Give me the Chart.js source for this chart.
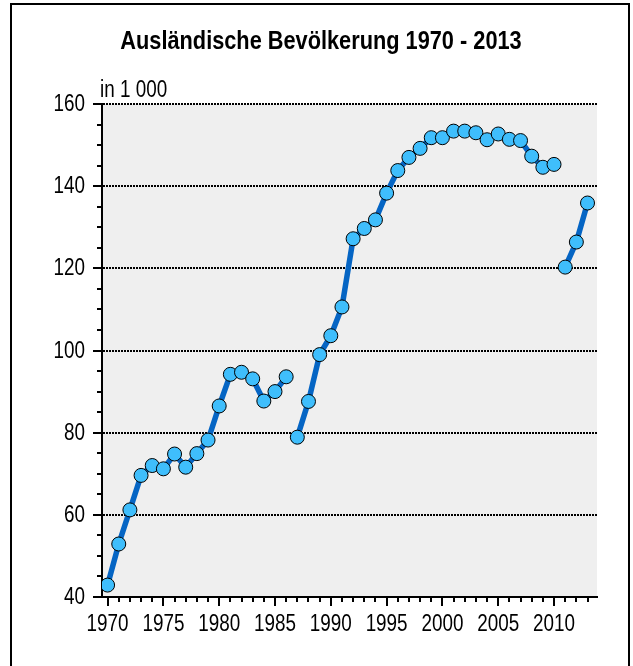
<!DOCTYPE html>
<html>
<head>
<meta charset="utf-8">
<script src="https://cdn.jsdelivr.net/npm/chart.js@4/dist/chart.umd.min.js"></script>
<style>
	html, body { margin: 0; padding: 0; background: #fff; overflow: hidden; }
	#wrap { position: relative; width: 633px; height: 666px; }
	#frame { position: absolute; left: 10px; top: 3px; width: 620px; height: 700px;
		box-sizing: border-box; border: 2px solid #000; border-bottom: none; pointer-events: none; }
	canvas { position: absolute; left: 0; top: 0; }
</style>
</head>
<body>
<div id="wrap">
	<canvas id="c" width="633" height="666"></canvas>
	<div id="frame"></div>
</div>
<script>
// Ausländische Bevölkerung, in 1 000
var years = [1970, 1971, 1972, 1973, 1974, 1975, 1976, 1977, 1978, 1979,
             1980, 1981, 1982, 1983, 1984, 1985, 1986, 1987, 1988, 1989,
             1990, 1991, 1992, 1993, 1994, 1995, 1996, 1997, 1998, 1999,
             2000, 2001, 2002, 2003, 2004, 2005, 2006, 2007, 2008, 2009,
             2010, 2011, 2012, 2013];
var foreigners = [42.9, 52.9, 61.2, 69.6, 72.0, 71.2, 74.8, 71.6, 74.9, 78.2,
                  86.5, 94.2, 94.7, 93.1, 87.7, 90.0, 93.6, 78.9, 87.6, 99.0,
                  103.6, 110.6, 127.2, 129.7, 131.8, 138.3, 143.8, 147.0, 149.2, 151.8,
                  151.8, 153.4, 153.4, 153.0, 151.3, 152.7, 151.4, 151.1, 147.3, 144.6,
                  145.3, 120.3, 126.4, 135.9];
// a new series starts in these years, no line is drawn into them
var seriesBreaks = [1987, 2011];
var xTickLabels = [1970, 1975, 1980, 1985, 1990, 1995, 2000, 2005, 2010];
var yTickLabels = [40, 60, 80, 100, 120, 140, 160];

var chartTitle = "Ausländische Bevölkerung 1970 - 2013";
var unitLabel = "in 1 000";

var FONT = "'Liberation Sans', Arial, sans-serif";
var lineColor = "#0565c4";
var NARROW_X = 0.82; // the original uses a condensed face

var points = [];
for (var i = 0; i < years.length; i++) {
	points.push({x: years[i], y: foreigners[i]});
}

// text squeezed horizontally around its anchor
function narrowText(ctx, text, x, y, align, sx) {
	ctx.save();
	ctx.translate(x, y);
	ctx.scale(sx, 1);
	ctx.textAlign = align;
	ctx.fillText(text, 0, 0);
	ctx.restore();
}

// gray plot area, minor/major tick marks, tick labels, title and unit text
var decor = {
	id: 'decor',
	beforeDraw: function(chart) {
		var a = chart.chartArea, ctx = chart.ctx;
		ctx.save();
		ctx.fillStyle = "#efefef";
		ctx.fillRect(a.left, a.top, a.right - a.left, a.bottom - a.top);
		ctx.restore();
	},
	afterDraw: function(chart) {
		var a = chart.chartArea, ctx = chart.ctx;
		var xs = chart.scales.x, ys = chart.scales.y;
		ctx.save();
		ctx.strokeStyle = "#000";
		ctx.lineWidth = 2;
		ctx.beginPath();
		for (var v = ys.min; v <= ys.max; v += 5) {
			var py = Math.round(ys.getPixelForValue(v));
			var len = (v % 20 === 0) ? 9 : 5;
			ctx.moveTo(a.left - len, py);
			ctx.lineTo(a.left, py);
		}
		for (var yr = Math.ceil(xs.min); yr <= xs.max; yr++) {
			var px = Math.round(xs.getPixelForValue(yr));
			var l2 = (yr % 5 === 0) ? 9 : 5;
			ctx.moveTo(px, a.bottom);
			ctx.lineTo(px, a.bottom + l2);
		}
		ctx.stroke();

		ctx.fillStyle = "#000";
		ctx.textBaseline = "alphabetic";
		ctx.font = "23px " + FONT;
		xs.ticks.forEach(function(t) {
			narrowText(ctx, String(t.value), xs.getPixelForValue(t.value), a.bottom + 34, "center", NARROW_X);
		});
		ys.ticks.forEach(function(t) {
			narrowText(ctx, String(t.value), a.left - 17, ys.getPixelForValue(t.value) + 7, "right", NARROW_X);
		});
		narrowText(ctx, unitLabel, 100, 97, "left", NARROW_X);

		ctx.font = "bold 25px " + FONT;
		narrowText(ctx, chartTitle, 321, 49, "center", 0.87);
		ctx.restore();
	}
};

var c = new Chart(document.getElementById("c"), {
	type: 'line',
	data: {
		datasets: [{
			label: "Ausländische Bevölkerung",
			data: points,
			borderColor: lineColor,
			borderWidth: 5.5,
			tension: 0,
			pointRadius: 7,
			pointBackgroundColor: "#3fbefc",
			pointBorderColor: "#000",
			pointBorderWidth: 1,
			segment: {
				borderColor: function(ctx) {
					return seriesBreaks.indexOf(years[ctx.p1DataIndex]) >= 0 ? 'transparent' : lineColor;
				}
			}
		}]
	},
	options: {
		responsive: false,
		animation: false,
		devicePixelRatio: 1,
		layout: {padding: {left: 0, top: 104, right: 36, bottom: 0}},
		plugins: {
			legend: {display: false},
			tooltip: {enabled: false},
			title: {display: false}
		},
		scales: {
			x: {
				type: 'linear',
				min: 1969.5,
				max: 2013.85,
				afterFit: function(scale) { scale.height = 69; },
				afterBuildTicks: function(scale) {
					scale.ticks = xTickLabels.map(function(v) { return {value: v}; });
				},
				grid: {display: false, drawTicks: false},
				border: {display: true, color: "#000", width: 2},
				ticks: {display: false, autoSkip: false}
			},
			y: {
				min: 40,
				max: 160,
				afterFit: function(scale) { scale.width = 102; },
				afterBuildTicks: function(scale) {
					scale.ticks = yTickLabels.map(function(v) { return {value: v}; });
				},
				grid: {
					drawTicks: false,
					lineWidth: 2,
					color: function(ctx) {
						return (ctx.tick && ctx.tick.value === 40) ? 'transparent' : '#000';
					}
				},
				border: {display: true, color: "#000", width: 2, dash: [2, 1]},
				ticks: {display: false, autoSkip: false}
			}
		}
	},
	plugins: [decor]
});
</script>
</body>
</html>
